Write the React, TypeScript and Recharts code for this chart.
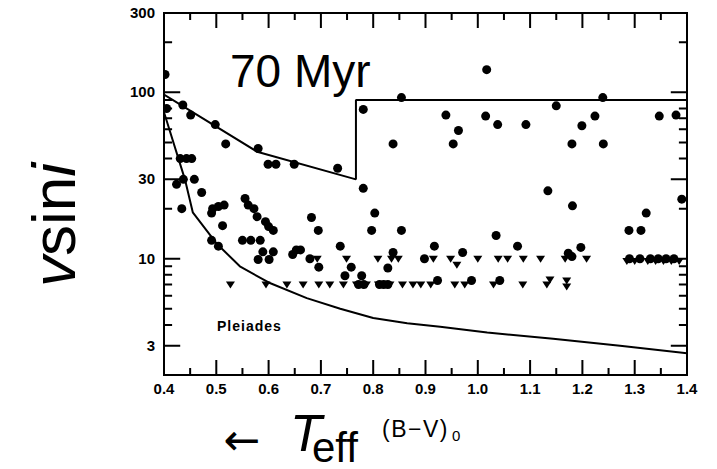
import React from 'react';
import { ScatterChart, Scatter, XAxis, YAxis, ReferenceArea } from 'recharts';

// detections (filled circles): B-V colour and v sin i (km/s)
const detBV = [
  0.402, 0.405, 0.436, 0.451, 0.498, 0.518, 0.58, 0.599, 0.614, 0.649, 0.732,
  0.781, 0.854, 0.838, 0.939, 0.953, 0.963, 1.015, 1.017, 1.038, 1.092, 1.15,
  1.18, 1.199, 1.224, 1.239, 1.24, 1.347, 1.379,
  0.431, 0.443, 0.453, 0.424, 0.437, 0.458, 0.472, 0.434, 0.493, 0.504, 0.515,
  0.491, 0.512, 0.491, 0.504,
  0.555, 0.561, 0.572, 0.578, 0.594, 0.6, 0.609, 0.55, 0.566, 0.584,
  0.589, 0.58, 0.609, 0.601, 0.646, 0.653, 0.661, 0.679, 0.696, 0.682, 0.695,
  0.737, 0.758, 0.746, 0.781, 0.803, 0.797, 0.854, 0.838, 0.828, 0.778,
  0.772, 0.782, 0.812, 0.82, 0.828, 0.898, 0.917, 0.971, 0.923, 0.988, 1.042,
  1.035, 1.076, 1.134, 1.181, 1.197, 1.173, 1.18, 1.289, 1.312, 1.322, 1.39,
  1.29, 1.31, 1.33, 1.345, 1.36, 1.375,
];
const detV = [
  128, 80, 84, 73, 64, 49, 46, 37, 37, 37, 35,
  79, 93, 49, 73, 49, 59, 72, 137, 64, 64, 83,
  49, 63, 72, 93, 49, 72, 73,
  40, 40, 40, 28, 30, 30, 25, 20, 20, 20.6, 21,
  18.8, 15.8, 12.9, 11.9,
  23, 21, 20, 17.9, 16.7, 15.6, 14.8, 12.9, 12.9, 12.9,
  11, 9.9, 11, 9.9, 10.6, 11.3, 11.3, 10, 8.9, 17.7, 14.8,
  11.9, 8.9, 7.9, 26.5, 18.8, 14.8, 14.8, 10.9, 8.8, 7.9,
  7, 7, 7, 7, 7, 10, 11.9, 10.9, 7.4, 7.4, 7.4,
  13.8, 11.9, 25.6, 20.8, 11.7, 10.8, 10.3, 14.8, 14.8, 18.8, 22.8,
  10, 10, 10, 10, 10, 10,
];

// upper limits (downward triangles)
const limBV = [
  0.693, 0.749, 0.809, 0.835, 0.848, 0.915, 0.948, 0.96, 1.0, 1.039, 1.057,
  1.087, 1.12, 1.167, 1.208, 1.285, 1.3, 1.325, 1.34, 1.355, 1.37, 1.385,
  0.527, 0.595, 0.635, 0.666, 0.696, 0.717, 0.743, 0.768, 0.787, 0.81, 0.832,
  0.856, 0.876, 0.891, 0.91, 0.956, 0.975, 1.03, 1.086, 1.132, 1.138, 1.17, 1.17,
];
const limV = [
  10, 10, 10, 10, 10, 10, 10, 9.2, 10, 10, 10,
  10, 10, 10, 10, 9.7, 9.7, 9.7, 9.7, 9.7, 9.7, 9.7,
  7, 7, 7, 7, 7, 7, 7, 7, 7, 7, 7,
  7, 7, 7, 7, 7, 7, 7, 7, 7, 7.5, 7.4, 6.8,
];

// upper envelope (Pleiades at 70 Myr)
const upperBV = [0.4, 0.578, 0.767, 0.767, 1.4];
const upperV = [97, 44, 30, 90, 90];

// lower envelope
const lowerBV = [0.4, 0.44, 0.455, 0.5, 0.545, 0.6, 0.673, 0.737, 0.8, 0.865, 0.928, 1.018, 1.144, 1.272, 1.4];
const lowerV = [76, 30, 19, 12.4, 9, 7.2, 5.8, 5.0, 4.4, 4.1, 3.9, 3.6, 3.3, 3.0, 2.7];

const xTicks = [0.4, 0.45, 0.5, 0.55, 0.6, 0.65, 0.7, 0.75, 0.8, 0.85, 0.9, 0.95, 1.0, 1.05, 1.1, 1.15, 1.2, 1.25, 1.3, 1.35, 1.4];
const yTicks = [3, 4, 5, 6, 7, 8, 9, 10, 20, 30, 40, 50, 60, 70, 80, 90, 100, 200, 300];
const yLabeled = [3, 10, 30, 100, 300];

const X_MIN = 0.4;
const X_MAX = 1.4;
const Y_MIN = 2;
const Y_MAX = 300;

const zip = (xs: number[], ys: number[]) => xs.map((bv, i) => ({ bv, v: ys[i] }));
const detections = zip(detBV, detV);
const limits = zip(limBV, limV);
const upper = zip(upperBV, upperV);
const lower = zip(lowerBV, lowerV);

const isMajorX = (t: number) => Math.round(t * 100) % 10 === 0;
const isMajorY = (t: number) => yLabeled.includes(t);

// inward tick lengths in axis units: ~15/7 px on the log y axis, ~16/8 px on the x axis
const xTickFactor = (t: number) => (isMajorX(t) ? 1.231 : 1.102);
const yTickLen = (t: number) => (isMajorY(t) ? 0.031 : 0.0155);

// each frame side is one comb path: out along the tick and back to the edge
const bottomComb = xTicks.flatMap((t) => [
  { bv: t, v: Y_MIN }, { bv: t, v: Y_MIN * xTickFactor(t) }, { bv: t, v: Y_MIN },
]);
const topComb = xTicks.flatMap((t) => [
  { bv: t, v: Y_MAX }, { bv: t, v: Y_MAX / xTickFactor(t) }, { bv: t, v: Y_MAX },
]);
const leftComb = yTicks.flatMap((t) => [
  { bv: X_MIN, v: t }, { bv: X_MIN + yTickLen(t), v: t }, { bv: X_MIN, v: t },
]);
const rightComb = yTicks.flatMap((t) => [
  { bv: X_MAX, v: t }, { bv: X_MAX - yTickLen(t), v: t }, { bv: X_MAX, v: t },
]);

const FONT = '"Liberation Sans", Arial, sans-serif';
const inkLine = { stroke: '#000', strokeWidth: 2, strokeLinejoin: 'bevel' as const };

const XTick = (props: any) => {
  const { x, y, payload } = props;
  if (!isMajorX(payload.value)) return <g />;
  return (
    <text x={x} y={Number(y) + 19} textAnchor="middle" fontFamily={FONT} fontWeight="bold" fontSize={15} fill="#000">
      {payload.value.toFixed(1)}
    </text>
  );
};

const YTick = (props: any) => {
  const { x, y, payload } = props;
  if (!isMajorY(payload.value)) return <g />;
  return (
    <text x={Number(x) - 9} y={Number(y) + 5} textAnchor="end" fontFamily={FONT} fontWeight="bold" fontSize={15} fill="#000">
      {payload.value}
    </text>
  );
};

const Dot = (props: any) => <circle cx={props.cx} cy={props.cy} r={4.5} fill="#000" />;

const Tri = (props: any) => {
  const { cx, cy } = props;
  return <path d={`M${cx - 4.5},${cy - 3} L${cx + 4.5},${cy - 3} L${cx},${cy + 4} Z`} fill="#000" />;
};

const Nothing = () => <g />;

export default function App() {
  return (
    <div style={{ position: 'absolute', left: 0, top: 0, width: 717, height: 469, background: '#fff' }}>
      <ScatterChart width={717} height={469} margin={{ top: 13, right: 30, left: 104, bottom: 64 }}>
        <XAxis
          type="number"
          dataKey="bv"
          domain={[X_MIN, X_MAX]}
          ticks={xTicks}
          interval={0}
          allowDataOverflow
          axisLine={false}
          tickLine={false}
          tickSize={0}
          tickMargin={0}
          height={30}
          tick={<XTick />}
        />
        <YAxis
          type="number"
          dataKey="v"
          scale="log"
          domain={[Y_MIN, Y_MAX]}
          ticks={yTicks}
          interval={0}
          allowDataOverflow
          axisLine={false}
          tickLine={false}
          tickSize={0}
          tickMargin={0}
          width={60}
          tick={<YTick />}
        />
        <ReferenceArea x1={X_MIN} x2={X_MAX} y1={Y_MIN} y2={Y_MAX} fill="none" stroke="#000" strokeWidth={2} ifOverflow="visible" />
        <Scatter data={bottomComb} line={inkLine} lineType="joint" shape={<Nothing />} isAnimationActive={false} />
        <Scatter data={topComb} line={inkLine} lineType="joint" shape={<Nothing />} isAnimationActive={false} />
        <Scatter data={leftComb} line={inkLine} lineType="joint" shape={<Nothing />} isAnimationActive={false} />
        <Scatter data={rightComb} line={inkLine} lineType="joint" shape={<Nothing />} isAnimationActive={false} />
        <Scatter data={upper} line={inkLine} lineType="joint" shape={<Nothing />} isAnimationActive={false} />
        <Scatter data={lower} line={inkLine} lineType="joint" shape={<Nothing />} isAnimationActive={false} />
        <Scatter data={detections} shape={<Dot />} isAnimationActive={false} />
        <Scatter data={limits} shape={<Tri />} isAnimationActive={false} />
      </ScatterChart>
      <svg width={717} height={469} style={{ position: 'absolute', left: 0, top: 0, pointerEvents: 'none' }}>
        <text x={230} y={87} fontFamily={FONT} fontSize={46} fill="#000">70 Myr</text>
        <text x={217} y={331} fontFamily={FONT} fontWeight="bold" fontSize={14} letterSpacing={1} fill="#000">Pleiades</text>
        <text transform="translate(75,225) rotate(-90)" textAnchor="middle" fontFamily={FONT} fontSize={62} fill="#000">
          <tspan fontStyle="italic">v</tspan>sin<tspan fontStyle="italic">i</tspan>
        </text>
        <text x={242} y={455} textAnchor="middle" fontFamily='"DejaVu Sans", sans-serif' fontSize={44} fill="#000">←</text>
        <text x={290} y={451} fontFamily={FONT} fontStyle="italic" fontSize={52} fill="#000">T</text>
        <text x={312} y={462} fontFamily={FONT} fontSize={42} fill="#000">eff</text>
        <text x={382} y={437} fontFamily={FONT} fontSize={23} letterSpacing={1.5} fill="#000">(B−V)</text>
        <text x={452} y={441} fontFamily={FONT} fontSize={15} fill="#000">0</text>
      </svg>
    </div>
  );
}
